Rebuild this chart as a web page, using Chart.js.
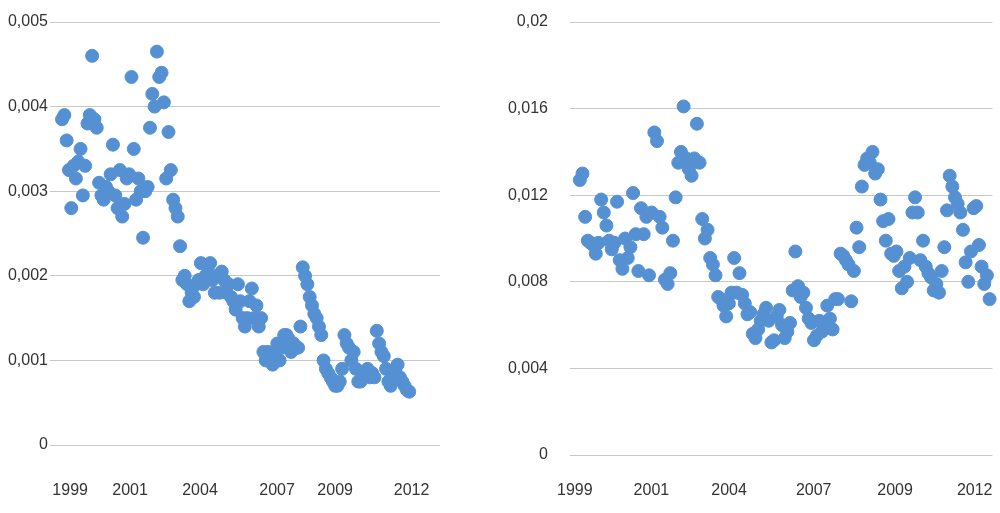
<!DOCTYPE html>
<html><head><meta charset="utf-8">
<script src="https://cdn.jsdelivr.net/npm/chart.js@4"></script>
<style>body{margin:0;background:#fff;width:1000px;height:513px;position:relative;overflow:hidden}
.c{position:absolute;top:0;height:513px}</style></head><body>
<div class="c" style="left:0;width:450px"><canvas id="a"></canvas></div>
<div class="c" style="left:500px;width:500px"><canvas id="b"></canvas></div>
<script>
const leftValues=[0.00385,0.0039,0.0036,0.00325,0.0028,0.0033,0.00315,0.00335,0.0035,0.00295,0.0033,0.0038,
0.0039,0.0046,0.00385,0.00375,0.0031,0.00295,0.0029,0.00305,0.003,0.0032,0.00355,0.00295,
0.0028,0.00325,0.0027,0.00285,0.00315,0.0032,0.00435,0.0035,0.0029,0.00315,0.003,0.00245,
0.003,0.00305,0.00375,0.00415,0.0040,0.00465,0.00435,0.0044,0.00405,0.00315,0.0037,0.00325,
0.0029,0.0028,0.0027,0.00235,0.00195,0.002,0.0019,0.0017,0.0018,0.00175,0.0019,0.00195,
0.00215,0.0019,0.002,0.0021,0.00215,0.00195,0.0018,0.002,0.0018,0.00205,0.00195,0.0018,
0.0019,0.00175,0.0017,0.0016,0.0019,0.0017,0.0015,0.0014,0.0015,0.0017,0.00185,0.0015,
0.00165,0.0014,0.0015,0.0011,0.001,0.0011,0.00105,0.00095,0.0011,0.0012,0.001,0.00115,
0.0013,0.0013,0.00125,0.0011,0.0012,0.00115,0.00115,0.0014,0.0021,0.002,0.0019,0.00175,
0.00165,0.00155,0.0015,0.0014,0.0013,0.001,0.0009,0.00085,0.0008,0.00075,0.0007,0.0007,
0.00075,0.0009,0.0013,0.0012,0.00115,0.001,0.0011,0.0009,0.00075,0.00075,0.0008,0.00085,
0.0009,0.0008,0.00085,0.0008,0.00135,0.0012,0.0011,0.00105,0.0009,0.00075,0.0007,0.00085,
0.0009,0.00095,0.0008,0.00075,0.0007,0.00065,0.00063];
const rightValues=[0.0127,0.0130,0.0110,0.0099,0.0098,0.0097,0.0093,0.0098,0.0118,0.0112,0.0106,0.0099,
0.0095,0.0098,0.0117,0.0090,0.0086,0.0100,0.0091,0.0096,0.0121,0.0102,0.0085,0.0114,
0.0102,0.0110,0.0083,0.0112,0.0149,0.0145,0.0110,0.0105,0.0081,0.0079,0.0084,0.0099,
0.0119,0.0135,0.0140,0.0161,0.0137,0.0132,0.0129,0.0137,0.0153,0.0135,0.0109,0.0100,
0.0104,0.0091,0.0088,0.0083,0.0073,0.0072,0.0069,0.0064,0.0070,0.0075,0.0091,0.0075,
0.0084,0.0074,0.0070,0.0065,0.0066,0.0056,0.0054,0.0058,0.0062,0.0065,0.0068,0.0062,
0.0052,0.0053,0.0064,0.0067,0.0060,0.0054,0.0057,0.0061,0.0076,0.0094,0.0078,0.0073,
0.0075,0.0068,0.0063,0.0061,0.0053,0.0055,0.0062,0.0057,0.0059,0.0069,0.0063,0.0058,
0.0072,0.0072,0.0093,0.0092,0.0090,0.0088,0.0071,0.0085,0.0105,0.0096,0.0124,0.0134,
0.0137,0.0135,0.0140,0.0130,0.0132,0.0118,0.0108,0.0099,0.0109,0.0093,0.0092,0.0094,
0.0085,0.0077,0.0087,0.0080,0.0091,0.0112,0.0119,0.0112,0.0090,0.0099,0.0087,0.0084,
0.0082,0.0076,0.0079,0.0075,0.0085,0.0096,0.0113,0.0129,0.0124,0.0119,0.0116,0.0112,
0.0104,0.0089,0.0080,0.0094,0.0114,0.0115,0.0097,0.0087,0.0079,0.0083,0.0072];
const yearLabels=['1999','2001','2004','2007','2009','2012'];
const leftTickIdx=[3.5,29.4,59.6,92.9,118,151];
const rightTickIdx=[-1.9,26.9,56.1,87.9,118.5,148.4];
const leftYTicks=[0,0.001,0.002,0.003,0.004,0.005];
const rightYTicks=[0,0.004,0.008,0.012,0.016,0.02];

function make(id,vals,xt,yt,xmin,xmax,yw,padR,padT,xh,xpad){
  new Chart(document.getElementById(id),{type:'scatter',
    data:{datasets:[{data:vals.map((v,i)=>({x:i,y:v})),backgroundColor:'#5591d2',borderColor:'#5591d2',pointRadius:6.5,pointHoverRadius:6.5,clip:false}]},
    options:{responsive:true,maintainAspectRatio:false,animation:false,
      layout:{padding:{top:padT,right:padR,left:0,bottom:0}},
      plugins:{legend:{display:false},tooltip:{enabled:false}},
      scales:{
        x:{type:'linear',min:xmin,max:xmax,
          afterBuildTicks:s=>{s.ticks=xt.map(v=>({value:v}));},
          afterFit:s=>{s.height=xh;s.paddingLeft=0;s.paddingRight=0;},
          grid:{display:false,drawTicks:false},border:{display:false},
          ticks:{autoSkip:false,maxRotation:0,padding:xpad,color:'#333',font:{family:'Liberation Sans',size:16},
            callback:(v,i)=>yearLabels[i]}},
        y:{min:0,max:yt[yt.length-1],
          afterBuildTicks:s=>{s.ticks=yt.map(v=>({value:v}));},
          afterFit:s=>{s.width=yw;s.paddingTop=0;s.paddingBottom=0;},
          grid:{color:'#c8c8c8',drawTicks:false},border:{display:false},
          ticks:{padding:yw-48,color:'#333',font:{family:'Liberation Sans',size:16},
            callback:v=>v===0?'0':String(+v.toFixed(4)).replace('.',',')}}
      }}});
}
make('a',leftValues,leftTickIdx,leftYTicks,-5.2,163.3,50,10,22,68,36);
make('b',rightValues,rightTickIdx,rightYTicks,-3.7,155.1,70,5,22,58,26);
</script></body></html>
